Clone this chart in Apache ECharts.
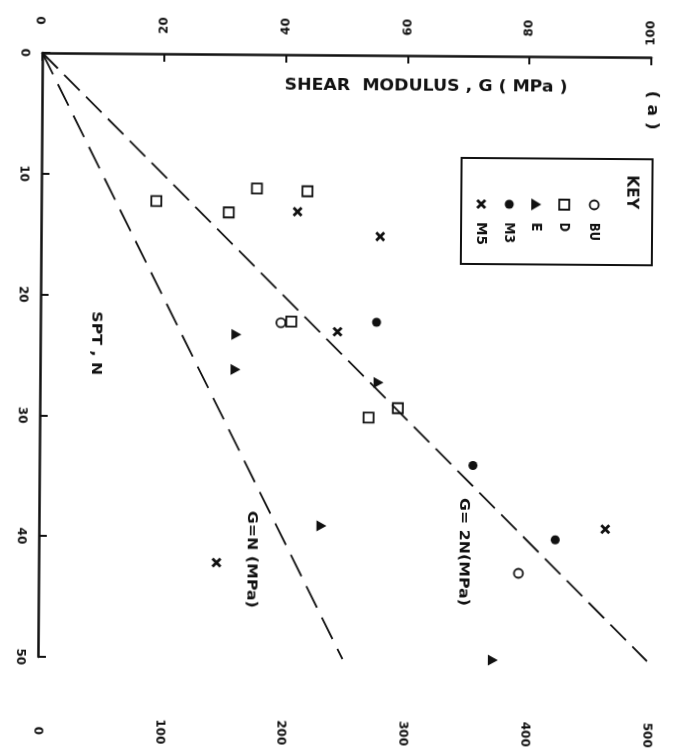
<!DOCTYPE html>
<html>
<head>
<meta charset="utf-8">
<script src="https://cdn.jsdelivr.net/npm/echarts@6/dist/echarts.min.js"></script>
<style>
html, body { margin: 0; padding: 0; background: #fff; overflow: hidden; }
#chart { width: 674px; height: 751px; transform: rotate(0.42deg); transform-origin: 50% 50%; }
</style>
</head>
<body>
<div id="chart"></div>
<script>
// Shear modulus G (MPa) against SPT blow count N, grouped by site.
// The plot is laid out sideways: G runs across, N runs down.

const gTicks = [0, 20, 40, 60, 80, 100];
const auxTicks = [0, 100, 200, 300, 400, 500];
const nTicks = [0, 10, 20, 30, 40, 50];

// Site BU
const buN = [22.2, 42.8];
const buG = [39.5, 78.8];
// Site D
const dN = [12.2, 11.1, 13.1, 11.3, 22.1, 29.2, 30.0];
const dG = [18.9, 35.4, 30.8, 43.7, 41.2, 58.8, 54.0];
// Site E
const eN = [23.2, 26.1, 27.1, 39.0, 50.0];
const eG = [32.2, 32.1, 55.6, 46.4, 74.7];
// Site M3
const m3N = [22.1, 33.9, 40.0];
const m3G = [55.2, 71.2, 84.8];
// Site M5
const m5N = [13.0, 15.0, 22.9, 42.1, 39.1];
const m5G = [42.1, 55.7, 48.8, 29.2, 93.0];

// Reference lines G = 2N and G = N
const lineN = [0, 50];
const lineG2 = [0, 100];
const lineG1 = [0, 50];

const INK = '#111';
const FONT = 'DejaVu Sans';
const CROSS = 'path://M2,0L5,3L8,0L10,2L7,5L10,8L8,10L5,7L2,10L0,8L3,5L0,2Z';
const TRI = 'path://M0,0L10,6L0,12Z';

const pairs = (gs, ns) => gs.map((g, i) => [g, ns[i]]);

// measure text so lettering can be stretched to a given run length
const ctx = document.createElement('canvas').getContext('2d');
const widthOf = (text, font) => { ctx.font = font; return ctx.measureText(text).width; };

const chart = echarts.init(document.getElementById('chart'), null, { renderer: 'canvas' });

const rotLabel = (margin) => ({
  rotate: -90, margin: margin, fontSize: 12, fontWeight: 'bold', color: INK, fontFamily: FONT,
  align: 'center', verticalAlign: 'middle'
});

const openStyle = { color: 'rgba(0,0,0,0)', borderColor: INK, borderWidth: 1.8, opacity: 1 };
const solidStyle = { color: INK, opacity: 1 };

// lettering: x,y anchor, run length along the text, sideways when rot is true
const lettering = (x, y, text, size, run, rot, align) => {
  const font = 'bold ' + size + 'px "' + FONT + '"';
  const s = run ? run / widthOf(text, font) : 1;
  return {
    type: 'text', x: x, y: y, rotation: rot ? -Math.PI / 2 : 0, scaleX: s, silent: true,
    style: {
      text: text, x: 0, y: 0, fill: INK, font: font,
      align: align || 'center', verticalAlign: 'middle',
      textAlign: align || 'center', textVerticalAlign: 'middle'
    }
  };
};

const option = {
  animation: false,
  backgroundColor: '#fff',
  grid: { left: 40, right: 25, top: 55, bottom: 92 },
  xAxis: [
    {
      type: 'value', position: 'top', min: 0, max: 100, interval: 20,
      axisLine: { show: true, onZero: false, lineStyle: { color: INK, width: 2.5 } },
      axisTick: { show: true, inside: true, length: 8, lineStyle: { color: INK, width: 2 } },
      // G labels end at a common distance from the axis line
      axisLabel: Object.assign(rotLabel(26), {
        formatter: v => gTicks.includes(v) ? '{g|' + v + '}' : '',
        rich: { g: { width: 21, align: 'right', fontSize: 12, fontWeight: 'bold', fontFamily: FONT, color: INK } }
      }),
      splitLine: { show: false }
    },
    {
      type: 'value', position: 'bottom', min: 0, max: 500, interval: 100,
      axisLine: { show: false }, axisTick: { show: false },
      axisLabel: Object.assign(rotLabel(74), { formatter: v => auxTicks.includes(v) ? String(v) : '' }),
      splitLine: { show: false }
    }
  ],
  yAxis: {
    type: 'value', inverse: true, min: 0, max: 50, interval: 10, position: 'left',
    axisLine: { show: true, onZero: false, lineStyle: { color: INK, width: 2.5 } },
    axisTick: { show: true, inside: true, length: 8, lineStyle: { color: INK, width: 2 } },
    axisLabel: Object.assign(rotLabel(18), { formatter: v => nTicks.includes(v) ? String(v) : '' }),
    splitLine: { show: false }
  },
  series: [
    {
      type: 'line', xAxisIndex: 0, data: pairs(lineG2, lineN), showSymbol: false, silent: true,
      lineStyle: { color: INK, width: 1.8, type: [22, 9] }
    },
    {
      type: 'line', xAxisIndex: 0, data: pairs(lineG1, lineN), showSymbol: false, silent: true,
      lineStyle: { color: INK, width: 1.8, type: [24, 11] }
    },
    { name: 'BU', type: 'scatter', xAxisIndex: 0, data: pairs(buG, buN), symbol: 'circle', symbolSize: 9, itemStyle: openStyle },
    { name: 'D', type: 'scatter', xAxisIndex: 0, data: pairs(dG, dN), symbol: 'rect', symbolSize: 10, itemStyle: openStyle },
    { name: 'E', type: 'scatter', xAxisIndex: 0, data: pairs(eG, eN), symbol: TRI, symbolSize: [10, 11], itemStyle: solidStyle },
    { name: 'M3', type: 'scatter', xAxisIndex: 0, data: pairs(m3G, m3N), symbol: 'circle', symbolSize: 9, itemStyle: solidStyle },
    { name: 'M5', type: 'scatter', xAxisIndex: 0, data: pairs(m5G, m5N), symbol: CROSS, symbolSize: 10, itemStyle: solidStyle }
  ],
  graphic: [
    lettering(424, 86, 'SHEAR  MODULUS , G ( MPa )', 15, 283, false),
    lettering(96, 345, 'SPT , N', 14, 64, true),
    lettering(650, 108, '( a )', 16, 39, true),
    lettering(465, 551, 'G= 2N(MPa)', 14, 108, true),
    lettering(253, 560, 'G=N (MPa)', 14, 97, true),
    // key box
    { type: 'rect', shape: { x: 460, y: 157, width: 191, height: 106 }, style: { fill: 'none', stroke: INK, lineWidth: 2 }, silent: true },
    lettering(630, 190, 'KEY', 15, 34, true),
    { type: 'circle', shape: { cx: 593, cy: 203, r: 4.5 }, style: { fill: 'none', stroke: INK, lineWidth: 1.8 }, silent: true },
    { type: 'rect', shape: { x: 558, y: 198, width: 10, height: 10 }, style: { fill: 'none', stroke: INK, lineWidth: 1.8 }, silent: true },
    { type: 'polygon', shape: { points: [[530, 197], [540, 203], [530, 209]] }, style: { fill: INK }, silent: true },
    { type: 'circle', shape: { cx: 508, cy: 203, r: 4.5 }, style: { fill: INK }, silent: true },
    { type: 'polygon', shape: { points: [[477, 198], [480, 201], [483, 198], [485, 200], [482, 203], [485, 206], [483, 208], [480, 205], [477, 208], [475, 206], [478, 203], [475, 200]] }, style: { fill: INK }, silent: true },
    lettering(593, 221, 'BU', 14, 18, true, 'left'),
    lettering(563, 221, 'D', 14, 9, true, 'left'),
    lettering(535, 221, 'E', 14, 9, true, 'left'),
    lettering(508, 221, 'M3', 14, 21, true, 'left'),
    lettering(480, 221, 'M5', 14, 23, true, 'left')
  ]
};

chart.setOption(option);
</script>
</body>
</html>
